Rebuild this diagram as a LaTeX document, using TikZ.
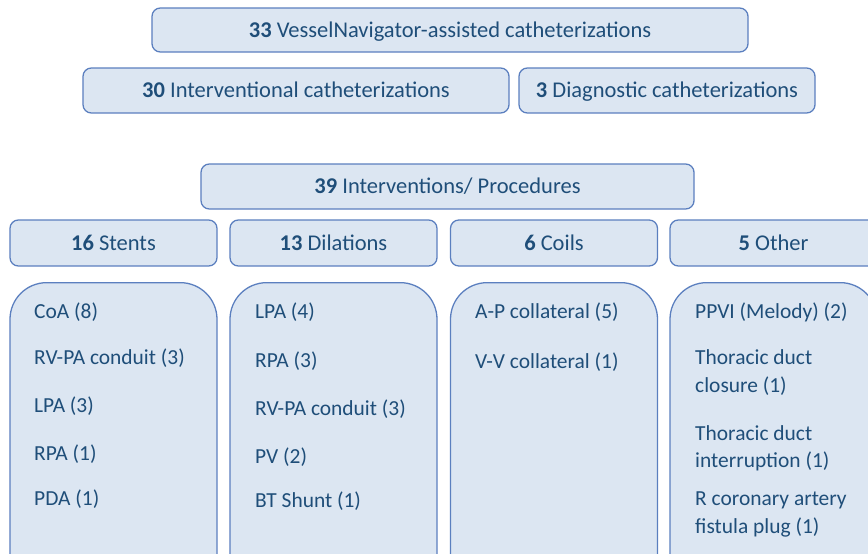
\documentclass[tikz,border=0pt]{standalone}
\usepackage{fontspec}
\setmainfont{Carlito}
\definecolor{boxfill}{HTML}{DCE6F2}
\definecolor{boxline}{HTML}{5B7FBF}
\definecolor{boxtext}{HTML}{1F4E79}
\def\stents{312/CoA (8),358/RV-PA conduit (3),406/LPA (3),454/RPA (1),499/PDA (1)}
\def\dilations{312/LPA (4),361/RPA (3),409/RV-PA conduit (3),457/PV (2),501/BT Shunt (1)}
\def\coils{312/A-P collateral (5),362/V-V collateral (1)}
\def\others{312/PPVI (Melody) (2),372.5/{Thoracic duct\\closure (1)},448.5/{Thoracic duct\\interruption (1)},514.5/{R coronary artery\\fistula plug (1)}}

\begin{document}
\begin{tikzpicture}[x=0.03cm,y=-0.03cm,
    every node/.style={text=boxtext,font=\fontsize{18.3}{23.3}\selectfont},
    hbox/.style={draw=boxline,fill=boxfill,line width=1.1pt,rounded corners=0.25cm,inner sep=0pt},
    headbox/.style={hbox,font=\fontsize{19.2}{23}\selectfont,text height=1.42em,text depth=0.2em},
    catbox/.style={headbox,minimum width=6.21cm,minimum height=1.38cm},
    listbox/.style={hbox,rounded corners=1.1cm,minimum width=6.21cm,minimum height=9.9cm,anchor=north},
    item/.style={anchor=west,align=left,inner sep=0pt}]
  \useasboundingbox (0,0) rectangle (868,553);
  \clip (0,0) rectangle (868,553);

  % top rows
  \node[headbox,minimum width=17.88cm,minimum height=1.32cm] (all) at (450,30)
       {\textbf{33} VesselNavigator-assisted catheterizations};
  \node[headbox,minimum width=12.78cm,minimum height=1.35cm] (interv) at (296,90.5)
       {\textbf{30} Interventional catheterizations};
  \node[headbox,minimum width=8.88cm,minimum height=1.35cm] (diag) at (667,90.5)
       {\textbf{3} Diagnostic catheterizations};
  \node[headbox,minimum width=14.79cm,minimum height=1.35cm] (proc) at (447.5,186.5)
       {\textbf{39} Interventions/ Procedures};

  % categories
  \node[catbox] (stents) at (113.5,243) {\textbf{16} Stents};
  \node[catbox] (dil) at (333.5,243) {\textbf{13} Dilations};
  \node[catbox] (coils) at (554,243) {\textbf{6} Coils};
  \node[catbox] (other) at (773.5,243) {\textbf{5} Other};

  \node[listbox] (stentlist) at (113.5,282) {};
  \node[listbox] (dillist) at (333.5,282) {};
  \node[listbox] (coillist) at (554,282) {};
  \node[listbox] (otherlist) at (773.5,282) {};

  % loop over the items of each column
  \foreach \y/\txt [count=\i] in \stents {%
    \node[item] (stent\i) at (34,\y) {\txt};
  }
  \foreach \y/\txt [count=\i] in \dilations {%
    \node[item] (dil\i) at (255,\y) {\txt};
  }
  \foreach \y/\txt [count=\i] in \coils {%
    \node[item] (coil\i) at (475,\y) {\txt};
  }
  \foreach \y/\txt [count=\i] in \others {%
    \node[item] (other\i) at (695,\y) {\txt};
  }

\end{tikzpicture}
\end{document}
